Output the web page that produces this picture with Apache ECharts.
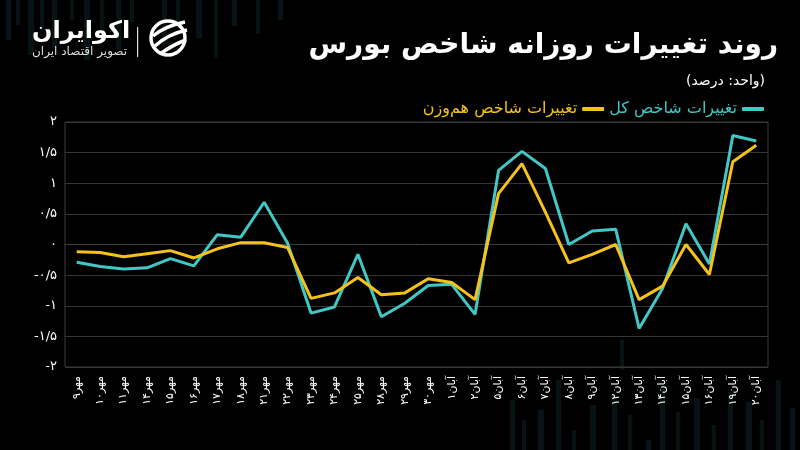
<!DOCTYPE html>
<html>
<head>
<meta charset="utf-8">
<script src="https://cdn.jsdelivr.net/npm/echarts@6/dist/echarts.min.js"></script>
<style>
html,body{margin:0;padding:0;background:#000;}
#c{width:800px;height:450px;}
</style>
</head>
<body>
<div id="c"></div>
<script>
// ---- data ----
const dayNums = ['9','10','11','14','15','16','17','18','21','22','23','24','25','28','29','30',
                 '1','2','5','6','7','8','9','12','13','14','15','16','19','20'];
const monthNames = ['مهر','مهر','مهر','مهر','مهر','مهر','مهر','مهر','مهر','مهر','مهر','مهر','مهر','مهر','مهر','مهر',
                    'آبان','آبان','آبان','آبان','آبان','آبان','آبان','آبان','آبان','آبان','آبان','آبان','آبان','آبان'];
const totalIndex = [-0.29,-0.36,-0.40,-0.38,-0.23,-0.35,0.16,0.12,0.69,0.02,
                    -1.12,-1.02,-0.16,-1.18,-0.96,-0.67,-0.65,-1.14,1.21,1.52,
                    1.24,0.00,0.22,0.25,-1.37,-0.72,0.34,-0.32,1.78,1.69];
const equalIndex = [-0.12,-0.13,-0.20,-0.15,-0.10,-0.22,-0.07,0.03,0.03,-0.05,
                    -0.88,-0.79,-0.54,-0.82,-0.79,-0.56,-0.62,-0.90,0.83,1.32,
                    0.53,-0.30,-0.16,0.00,-0.90,-0.68,0.00,-0.49,1.35,1.62];
const yTicks = [-2,-1.5,-1,-0.5,0,0.5,1,1.5,2];
const seriesNames = ['تغییرات شاخص کل','تغییرات شاخص هم‌وزن'];
const titleText = 'روند تغییرات روزانه شاخص بورس';
const subText = '\u200F(واحد: درصد)\u200F';

const FA = '۰۱۲۳۴۵۶۷۸۹';
function fa(s){ return String(s).replace(/[0-9]/g, d => FA[+d]); }
const categories = dayNums.map((d,i) => fa(d) + monthNames[i]);

const TEAL = '#41c8c6';
const YELLOW = '#f5c21b';
const FONT = 'DejaVu Sans';

// decorative faint bars (background only)
const deco = [];
const decoBars = [
  [6,0,5,40],[16,0,4,25],[28,0,6,55],[40,0,4,30],[52,0,5,48],[70,0,4,20],[84,0,6,60],[100,0,4,35],
  [116,0,5,50],[130,0,4,22],[162,0,5,45],[176,0,4,28],[196,0,6,38],[214,0,4,58],[232,0,5,26],[256,0,4,34],[278,0,5,20],
  [510,400,5,50],[522,420,4,30],[538,410,6,40],[556,380,5,70],[572,430,4,20],[590,405,6,45],[612,395,5,55],
  [628,415,4,35],[646,440,5,10],[660,388,5,62],[676,412,4,38],[694,398,6,52],[712,425,4,25],[728,392,5,58],
  [746,402,6,48],[760,420,4,30],[776,380,5,70],[790,408,5,42],[620,340,4,30]
];
decoBars.forEach(b => deco.push({type:'rect', shape:{x:b[0],y:b[1],width:b[2],height:b[3]},
  style:{fill:'rgba(40,110,125,0.17)'}, silent:true, z:-10}));

const option = {
  backgroundColor: '#000',
  animation: false,
  textStyle: {fontFamily: FONT},
  title: [
    {text: titleText, right: 17, top: 27,
     textStyle:{color:'#fff', fontSize:28, fontWeight:'bold', fontFamily:FONT}},
    {text: subText, right: 30, top: 69,
     textStyle:{color:'#fff', fontSize:14, fontWeight:'normal', fontFamily:FONT}}
  ],
  legend: {
    right: 31, top: 96, align: 'right', itemGap: 5,
    itemWidth: 22, itemHeight: 4, icon: 'roundRect',
    data: [
      {name: seriesNames[1], textStyle:{color: YELLOW}},
      {name: seriesNames[0], textStyle:{color: TEAL}}
    ],
    textStyle: {fontSize: 16, fontFamily: FONT}
  },
  grid: {left: 65, right: 32, top: 122, bottom: 83, show: true, borderColor: '#3c3c3c', borderWidth: 1},
  xAxis: {
    type: 'category', data: categories, boundaryGap: true,
    axisLine: {show: true, lineStyle:{color:'#3c3c3c'}},
    axisTick: {show: false},
    axisLabel: {color:'#fff', rotate: 90, fontSize: 11, margin: 9, interval: 0, fontFamily: FONT},
    splitLine: {show: false}
  },
  yAxis: {
    type: 'value', min: yTicks[0], max: yTicks[yTicks.length-1], interval: 0.5,
    axisLine: {show: false}, axisTick: {show: false},
    axisLabel: {color:'#fff', fontSize: 13, margin: 8, fontFamily: FONT,
      formatter: v => fa(String(v).replace('.', '/'))},
    splitLine: {show: true, lineStyle: {width: 1.2,
      color: yTicks.map(t => t === 0 ? '#d8d8d8' : '#353535')}}
  },
  series: [
    {name: seriesNames[0], type: 'line', data: totalIndex, symbol: 'none',
     lineStyle: {color: TEAL, width: 3}, itemStyle:{color: TEAL}, z: 3},
    {name: seriesNames[1], type: 'line', data: equalIndex, symbol: 'none',
     lineStyle: {color: YELLOW, width: 3}, itemStyle:{color: YELLOW}, z: 4}
  ],
  graphic: deco.concat([
    {type:'text', left: 32, top: 20, z: 10,
     style:{text:'اکوایران', fill:'#fff', font:'bold 24px "DejaVu Sans"'}},
    {type:'text', left: 32, top: 46, z: 10,
     style:{text:'تصویر اقتصاد ایران', fill:'#ddd', font:'12px "DejaVu Sans"'}},
    {type:'rect', shape:{x:137,y:27,width:1.2,height:30}, style:{fill:'#ddd'}, z:10},
    {type:'circle', shape:{cx:168,cy:38,r:17}, style:{fill:'none', stroke:'#fff', lineWidth:3.5}, z:10},
    {type:'bezierCurve', shape:{x1:153,y1:36,x2:185,y2:22,cpx1:165,cpy1:26}, style:{stroke:'#fff', lineWidth:3.5, fill:'none'}, z:10},
    {type:'bezierCurve', shape:{x1:155,y1:46,x2:187,y2:30,cpx1:168,cpy1:34}, style:{stroke:'#fff', lineWidth:3.5, fill:'none'}, z:10},
    {type:'bezierCurve', shape:{x1:160,y1:54,x2:186,y2:40,cpx1:174,cpy1:44}, style:{stroke:'#fff', lineWidth:3.5, fill:'none'}, z:10}
  ])
};

const chart = echarts.init(document.getElementById('c'), null, {renderer:'canvas'});
chart.setOption(option);
</script>
</body>
</html>
